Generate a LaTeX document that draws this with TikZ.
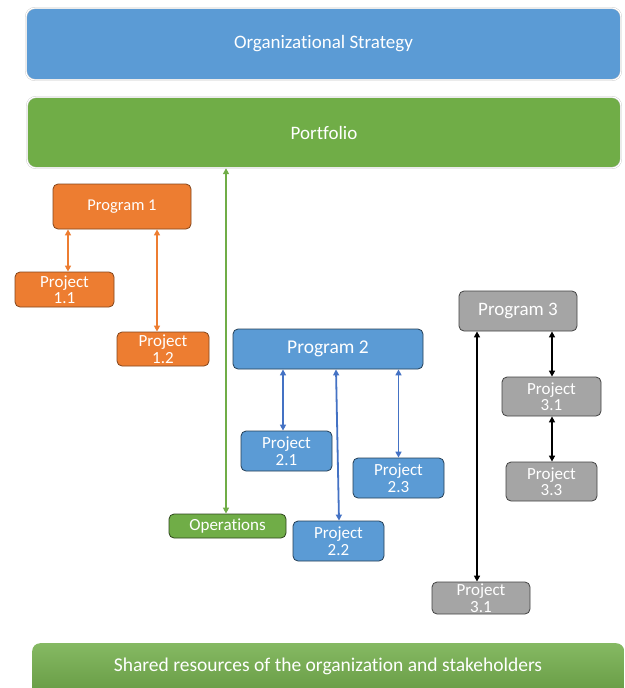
\documentclass[tikz,border=0pt]{standalone}
\usepackage{fontspec}
\setmainfont{Carlito}[Ligatures={NoCommon}]
\usetikzlibrary{arrows.meta}

\definecolor{stratblue}{HTML}{5B9BD5}
\definecolor{portgreen}{HTML}{70AD47}
\definecolor{progorange}{HTML}{ED7D31}
\definecolor{proggray}{HTML}{A5A5A5}
\definecolor{arrowblue}{HTML}{4472C4}

\tikzset{
    bigbox/.style={rectangle, rounded corners=9pt, draw=black!22, double=white,
        double distance=1.1pt, text=white, font=\fontsize{19}{21}\selectfont},
    box/.style={rectangle, rounded corners=5pt, line width=0.8pt, text=white,
        align=center, inner sep=0pt, font=\fontsize{17}{16.5}\selectfont},
    orangebox/.style={box, fill=progorange, draw=progorange!55!black},
    bluebox/.style={box, fill=stratblue, draw=stratblue!40!black},
    graybox/.style={box, fill=proggray, draw=proggray!40!black},
    greenbox/.style={box, fill=portgreen, draw=portgreen!40!black},
    link/.style={{Triangle[width=6pt,length=6pt]}-{Triangle[width=6pt,length=6pt]}, line width=1.8pt}
}

\begin{document}
\begin{tikzpicture}[x=1pt,y=-1pt]
    \useasboundingbox (0,0) rectangle (624,688);
    \clip (0,0) rectangle (624,688);
    \node[bigbox, fill=stratblue, minimum width=595pt, minimum height=72pt] (strat) at (323.5,44) {Organizational Strategy};
    \node[bigbox, fill=portgreen, minimum width=594pt, minimum height=71pt] (port) at (324,132.5) {Portfolio};
    \node[orangebox, minimum width=138pt, minimum height=45pt, font=\fontsize{16.5}{18}\selectfont] (prog1) at (122,206.5) {Program 1};
    \node[orangebox, minimum width=99pt, minimum height=35pt] (proj11) at (64.5,289.5) {Project\\1.1};
    \node[orangebox, minimum width=92pt, minimum height=34pt] (proj12) at (163,349) {Project\\1.2};
    \node[greenbox, minimum width=117pt, minimum height=24pt] (ops) at (227.5,526) {Operations};
    \node[bluebox, minimum width=190pt, minimum height=40pt, font=\fontsize{19.5}{21}\selectfont] (prog2) at (328,349) {Program 2};
    \node[bluebox, minimum width=91pt, minimum height=40pt] (proj21) at (286.5,451) {Project\\2.1};
    \node[bluebox, minimum width=91pt, minimum height=40pt] (proj22) at (338.5,541) {Project\\2.2};
    \node[bluebox, minimum width=91pt, minimum height=40pt] (proj23) at (398.5,478) {Project\\2.3};
    \node[graybox, minimum width=118pt, minimum height=40pt, font=\fontsize{19}{21}\selectfont] (prog3) at (518,311) {Program 3};
    \node[graybox, minimum width=99pt, minimum height=39pt] (proj31) at (551.5,396.5) {Project\\3.1};
    \node[graybox, minimum width=91pt, minimum height=39pt] (proj33) at (551.5,481.5) {Project\\3.3};
    \node[graybox, minimum width=98pt, minimum height=32pt] (proj31b) at (481,598) {Project\\3.1};
    \node[rectangle, rounded corners=8pt, top color=portgreen!85!white, bottom color=portgreen!85!black,
        minimum width=592pt, minimum height=64pt, anchor=north west, text=white] (shared) at (32,643) {};
    \node[text=white, font=\fontsize{19.5}{21}\selectfont] (sharedtext) at (328,666) {Shared resources of the organization and stakeholders};
    \draw[link, draw=progorange, fill=progorange] ([xshift=3.5pt]proj11.north) -- ([xshift=3.5pt]proj11.north |- prog1.south);
    \draw[link, draw=progorange, fill=progorange] ([xshift=-6pt]proj12.north) -- ([xshift=-6pt]proj12.north |- prog1.south);
    \draw[link, draw=portgreen, fill=portgreen] ([xshift=-1.5pt]ops.north) -- ([xshift=-1.5pt]ops.north |- port.south);
    \draw[link, draw=arrowblue, fill=arrowblue] ([xshift=-3.5pt]proj21.north) -- ([xshift=-3.5pt]proj21.north |- prog2.south);
    \draw[link, draw=arrowblue, fill=arrowblue] ([xshift=0.5pt]proj22.north) -- ([xshift=8pt]prog2.south);
    \draw[link, draw=arrowblue, fill=arrowblue] (proj23.north) -- (proj23.north |- prog2.south);
    \draw[link] ([xshift=-4pt]proj31b.north) -- ([xshift=-4pt]proj31b.north |- prog3.south);
    \draw[link] ([xshift=0.5pt]proj31.north) -- ([xshift=0.5pt]proj31.north |- prog3.south);
    \draw[link] ([xshift=0.5pt]proj33.north) -- ([xshift=0.5pt]proj31.south);
\end{tikzpicture}
\end{document}
